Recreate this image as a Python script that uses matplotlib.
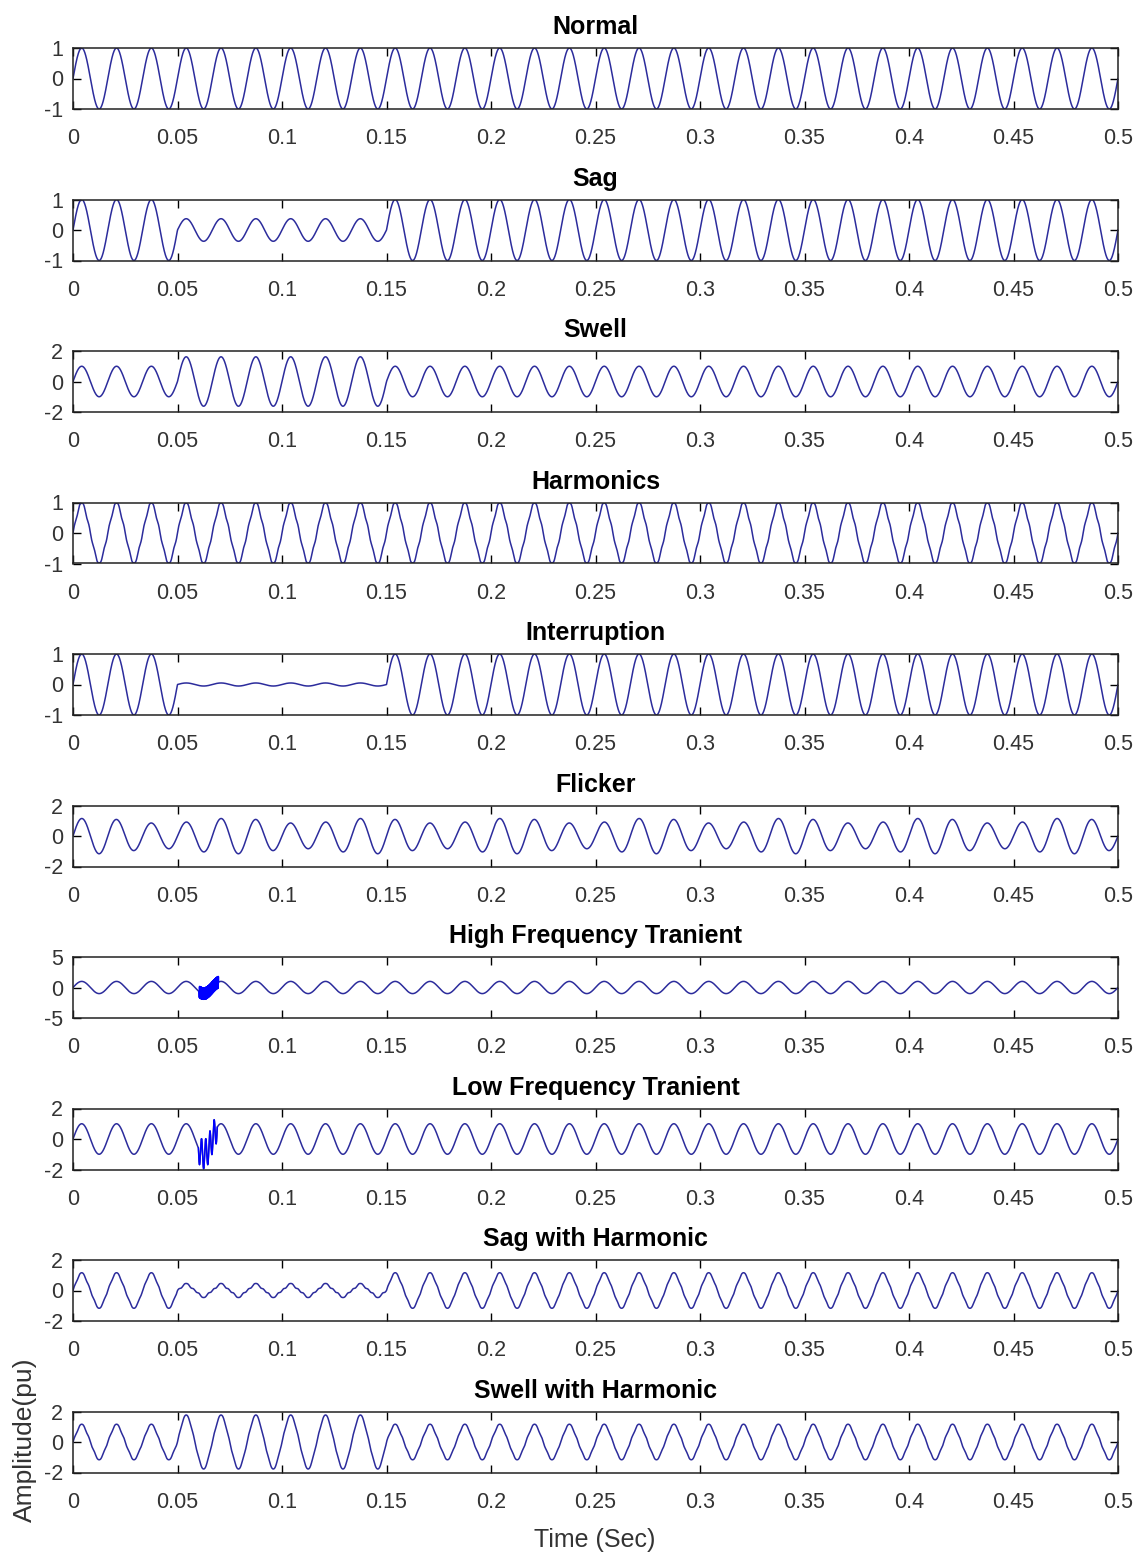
import numpy as np
import matplotlib.pyplot as plt

plt.rcParams['font.family'] = ['Liberation Sans', 'DejaVu Sans']

# waveform settings
f0 = 60              # fundamental (Hz)
fs = 50000           # sample rate (Hz)
t_end = 0.5
event_on, event_off = 0.05, 0.15

titles = ['Normal', 'Sag', 'Swell', 'Harmonics', 'Interruption', 'Flicker',
          'High Frequency Tranient', 'Low Frequency Tranient',
          'Sag with Harmonic', 'Swell with Harmonic']
y_limits = [1, 1, 2, 1, 1, 2, 5, 2, 2, 2]
x_ticks = [0, 0.05, 0.1, 0.15, 0.2, 0.25, 0.3, 0.35, 0.4, 0.45, 0.5]
x_tick_labels = ['0', '0.05', '0.1', '0.15', '0.2', '0.25', '0.3', '0.35', '0.4', '0.45', '0.5']

sag_level = 0.37
swell_level = 1.62
interrupt_level = 0.05

harm_orders = [3, 5, 7]
harm_fund = 0.94
harm_amps = [-0.05, 0.02, 0.03]
mixed_fund = 1.1
mixed_harm_amps = [-0.06, 0.03, 0.025]
mixed_sag_level = 0.36
mixed_swell_level = 1.55

flicker_freq = 15
flicker_depth = 0.17
flicker_phase = 0.65

hf_window = [0.0605, 0.0695]
hf_freq = 5000
hf_amp = 0.95

lf_window = [0.060, 0.069]
lf_freq = 500
lf_amp = 0.95

t = np.arange(0, t_end + 1 / fs, 1 / fs)
w = 2 * np.pi * f0 * t
fund = np.sin(w)
in_event = (t >= event_on) & (t < event_off)


def harmonics(amps):
    return sum(a * np.sin(n * w) for n, a in zip(harm_orders, amps))


def level(lvl):
    return np.where(in_event, lvl, 1.0)


normal = fund
sag = level(sag_level) * fund
swell = level(swell_level) * fund
harm = harm_fund * fund + harmonics(harm_amps)
interruption = level(interrupt_level) * fund
flicker = (1 + flicker_depth * np.sin(2 * np.pi * flicker_freq * t + flicker_phase)) * fund

hf_mask = (t >= hf_window[0]) & (t <= hf_window[1])
hf_trans = fund + np.where(hf_mask, hf_amp * np.sin(2 * np.pi * hf_freq * t), 0)

lf_mask = (t >= lf_window[0]) & (t <= lf_window[1])
lf_trans = fund - np.where(lf_mask, lf_amp * np.sin(2 * np.pi * lf_freq * (t - lf_window[0])), 0)

sag_h = level(mixed_sag_level) * mixed_fund * fund + harmonics(mixed_harm_amps)
swell_h = level(mixed_swell_level) * mixed_fund * fund + harmonics(mixed_harm_amps)

signals = [normal, sag, swell, harm, interruption, flicker,
           hf_trans, lf_trans, sag_h, swell_h]

fig = plt.figure(figsize=(11.46, 15.57), dpi=100)
W, H = 1146, 1557
left, right = 73, 1118
top0, row_step, box_h = 48, 151.5, 61

for i, (name, sig, lim) in enumerate(zip(titles, signals, y_limits)):
    top = top0 + i * row_step
    ax = fig.add_axes([left / W, 1 - (top + box_h) / H, (right - left) / W, box_h / H])
    ax.plot(t, sig, color='#2c2c9c', lw=1.1)
    if i == 6:
        ax.plot(t[hf_mask], sig[hf_mask], color='#0000ff', lw=1.4)
    if i == 7:
        ax.plot(t[lf_mask], sig[lf_mask], color='#0000ff', lw=1.0)
    ax.set_xlim(0, t_end)
    ax.set_ylim(-lim, lim)
    ax.set_xticks(x_ticks)
    ax.set_xticklabels(x_tick_labels)
    ax.set_yticks([-lim, 0, lim])
    ax.set_yticklabels([str(-lim), '0', str(lim)])
    ax.tick_params(direction='in', top=True, right=True, length=6, width=1,
                   labelsize=15.5, labelcolor='#333333')
    ax.tick_params(axis='x', pad=14)
    ax.tick_params(axis='y', pad=7)
    for s in ax.spines.values():
        s.set_linewidth(1.1)
        s.set_color('#222222')
    ax.set_title(name, fontsize=18, fontweight='bold', pad=10)

fig.text(595 / W, 1 - 1540 / H, 'Time (Sec)', fontsize=18, color='#333333',
         ha='center', va='center')
fig.text(25 / W, 1 - 1440 / H, 'Amplitude(pu)', fontsize=19, color='#333333',
         ha='center', va='center', rotation=90)

fig.savefig('out.png', dpi=100)
